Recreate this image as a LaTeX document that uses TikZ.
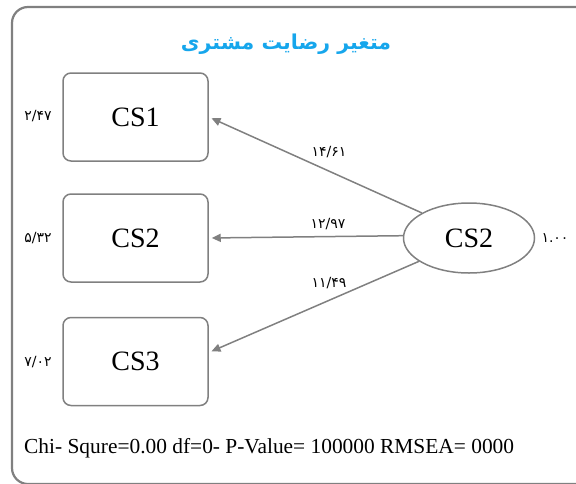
\documentclass[tikz,border=0pt]{standalone}
\usepackage{fontspec}
\setmainfont{Liberation Serif}
\newfontfamily\arabicfont[Script=Arabic]{DejaVu Sans}
\newfontfamily\arabicbold[Script=Arabic]{DejaVu Sans Bold}
\TeXXeTstate=1
\usetikzlibrary{shapes.geometric,arrows.meta}
\definecolor{linegray}{RGB}{128,128,128}
\definecolor{titleblue}{RGB}{22,166,236}
\tikzset{
  framebox/.style={draw=linegray,line width=2.2pt,rounded corners=16pt},
  varbox/.style={draw=linegray,line width=1.5pt,rounded corners=8pt,rectangle,
    minimum width=145pt,minimum height=88pt,font=\fontsize{28}{32}\selectfont},
  latent/.style={draw=linegray,line width=1.5pt,ellipse,
    minimum width=131pt,minimum height=70pt,inner sep=0pt,font=\fontsize{28}{32}\selectfont},
  path arrow/.style={draw=linegray,line width=1.5pt,-{Triangle[length=9pt,width=8pt]},shorten >=3pt},
  numlbl/.style={font=\arabicfont\fontsize{14}{16}\selectfont,inner sep=1pt},
}
\begin{document}
\begin{tikzpicture}[x=1pt,y=-1pt]
\useasboundingbox (0,0) rectangle (576,483);
\begin{scope}
\clip (0,0) rectangle (576,483);
\draw[framebox] (12,7) rectangle (640,484);
\end{scope}
\node[font=\arabicbold\fontsize{20.5}{24}\selectfont,text=titleblue] (title) at (286,44) {\beginR متغیر رضایت مشتری\endR};
\node[varbox] (b1) at (135.5,117) {CS1};
\node[varbox] (b2) at (135.5,238) {CS2};
\node[varbox] (b3) at (135.5,361.5) {CS3};
\node[latent] (el) at (469,238) {CS2};
\draw[path arrow] (el.152) -- (b1.east);
\draw[path arrow] (el.178) -- (b2.east);
\draw[path arrow] (el.205) -- (b3.7);
\node[numlbl] (l1) at (329,152) {۱۴/۶۱};
\node[numlbl] (l2) at (328,224) {۱۲/۹۷};
\node[numlbl] (l3) at (329,283) {۱۱/۴۹};
\node[numlbl] (e1) at (38,116) {۲/۴۷};
\node[numlbl] (e2) at (38,238) {۵/۳۲};
\node[numlbl] (e3) at (38,362) {۷/۰۲};
\node[numlbl] (v) at (555,238) {۱.۰۰};
\node[font=\fontsize{21.4}{25}\selectfont,anchor=west,inner sep=0pt] (fit) at (24,448) {Chi- Squre=0.00 df=0- P-Value= 100000 RMSEA= 0000};
\end{tikzpicture}
\end{document}
